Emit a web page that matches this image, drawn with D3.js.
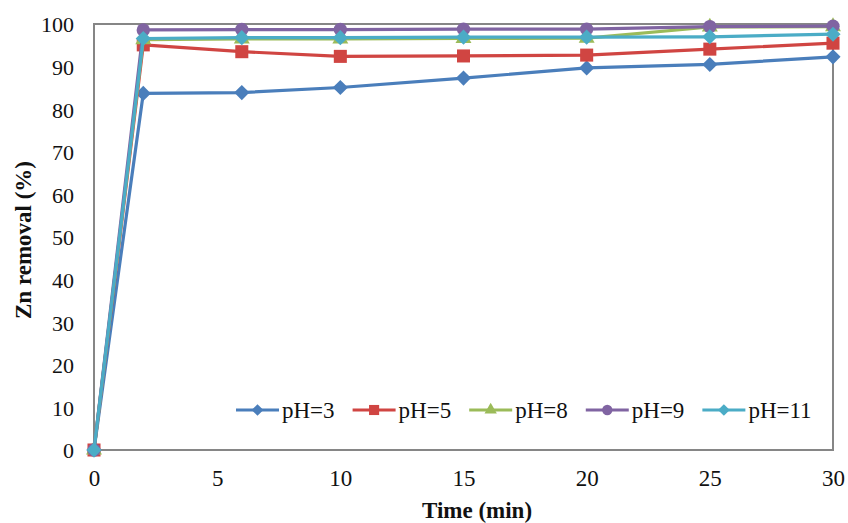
<!DOCTYPE html>
<html><head><meta charset="utf-8">
<script src="https://cdn.jsdelivr.net/npm/d3@7"></script>
<style>body{margin:0;background:#fff}svg{display:block}text{font-family:"Liberation Serif","Times New Roman",Times,serif !important;fill:#111}</style>
</head><body><svg id="c" width="848" height="523"></svg>
<script>
const times = [0, 2, 6, 10, 15, 20, 25, 30];
const pH3  = [0, 83.7, 83.9, 85.1, 87.3, 89.7, 90.5, 92.3];
const pH5  = [0, 95.1, 93.5, 92.4, 92.5, 92.7, 94.1, 95.5];
const pH8  = [0, 96.3, 96.5, 96.5, 96.6, 96.7, 99.3, 99.4];
const pH9  = [0, 98.6, 98.7, 98.7, 98.8, 98.8, 99.4, 99.5];
const pH11 = [0, 96.6, 96.8, 96.8, 96.9, 96.9, 97.0, 97.6];
const seriesNames = ["pH=3", "pH=5", "pH=8", "pH=9", "pH=11"];
const xTicks = [0, 5, 10, 15, 20, 25, 30];
const yTicks = [0, 10, 20, 30, 40, 50, 60, 70, 80, 90, 100];

const colors = ["#4a7ebb", "#d04542", "#9bbb59", "#8064a2", "#4bacc6"];
const symbols = [d3.symbolSquare, d3.symbolSquare, d3.symbolTriangle, d3.symbolCircle, d3.symbolSquare];
const rotations = [45, 0, 0, 0, 45];
const sizes = [115, 170, 110, 140, 115];
const values = [pH3, pH5, pH8, pH9, pH11];

const svg = d3.select("#c");
const L = 94, R = 833, T = 24, B = 450;
const x = d3.scaleLinear().domain([0, 30]).range([L, R]);
const y = d3.scaleLinear().domain([0, 100]).range([B, T]);

svg.append("rect").attr("x", L).attr("y", T).attr("width", R - L).attr("height", B - T)
  .attr("fill", "#fff").attr("stroke", "#868686").attr("stroke-width", 2);

const xAxis = d3.axisBottom(x).tickValues(xTicks).tickSize(0).tickPadding(0);
const gx = svg.append("g").attr("transform", `translate(0,${B})`).call(xAxis);
gx.attr("font-family", null);
gx.select(".domain").remove();
gx.selectAll("text").attr("dy", null).attr("y", 36).style("font-size", "23px").attr("fill", "#111");

const yAxis = d3.axisLeft(y).tickValues(yTicks).tickSize(0).tickPadding(0);
const gy = svg.append("g").attr("transform", `translate(74,0)`).call(yAxis);
gy.attr("font-family", null);
gy.select(".domain").remove();
gy.selectAll("text").attr("dy", "0.36em").attr("x", 0).style("font-size", "22px").attr("fill", "#111");

svg.append("text").attr("x", 477).attr("y", 518).attr("text-anchor", "middle")
  .style("font-size", "23px").style("font-weight", "bold").text("Time (min)");
svg.append("text").attr("transform", "translate(31,240) rotate(-90)").attr("text-anchor", "middle")
  .style("font-size", "23px").style("font-weight", "bold").text("Zn removal (%)");

const line = d3.line().x((d, i) => x(times[i])).y(d => y(d));
values.forEach((vals, s) => {
  const g = svg.append("g");
  g.append("path").datum(vals).attr("d", line).attr("fill", "none")
    .attr("stroke", colors[s]).attr("stroke-width", 3.2).attr("stroke-linejoin", "round");
  g.selectAll("path.m").data(vals).enter().append("path").attr("class", "m")
    .attr("transform", (d, i) => `translate(${x(times[i])},${y(d)}) rotate(${rotations[s]})`)
    .attr("d", d3.symbol().type(symbols[s]).size(sizes[s]))
    .attr("fill", colors[s]);
});

let lx = 236;
const ly = 410;
seriesNames.forEach((name, s) => {
  const g = svg.append("g");
  g.append("line").attr("x1", lx).attr("x2", lx + 43).attr("y1", ly).attr("y2", ly)
    .attr("stroke", colors[s]).attr("stroke-width", 3.2);
  g.append("path").attr("transform", `translate(${lx + 21.5},${ly}) rotate(${rotations[s]})`)
    .attr("d", d3.symbol().type(symbols[s]).size(sizes[s] * 0.6)).attr("fill", colors[s]);
  const t = g.append("text").attr("x", lx + 46).attr("y", ly + 8).style("font-size", "23px").text(name);
  lx = lx + 46 + t.node().getComputedTextLength() + 18;
});
</script></body></html>
